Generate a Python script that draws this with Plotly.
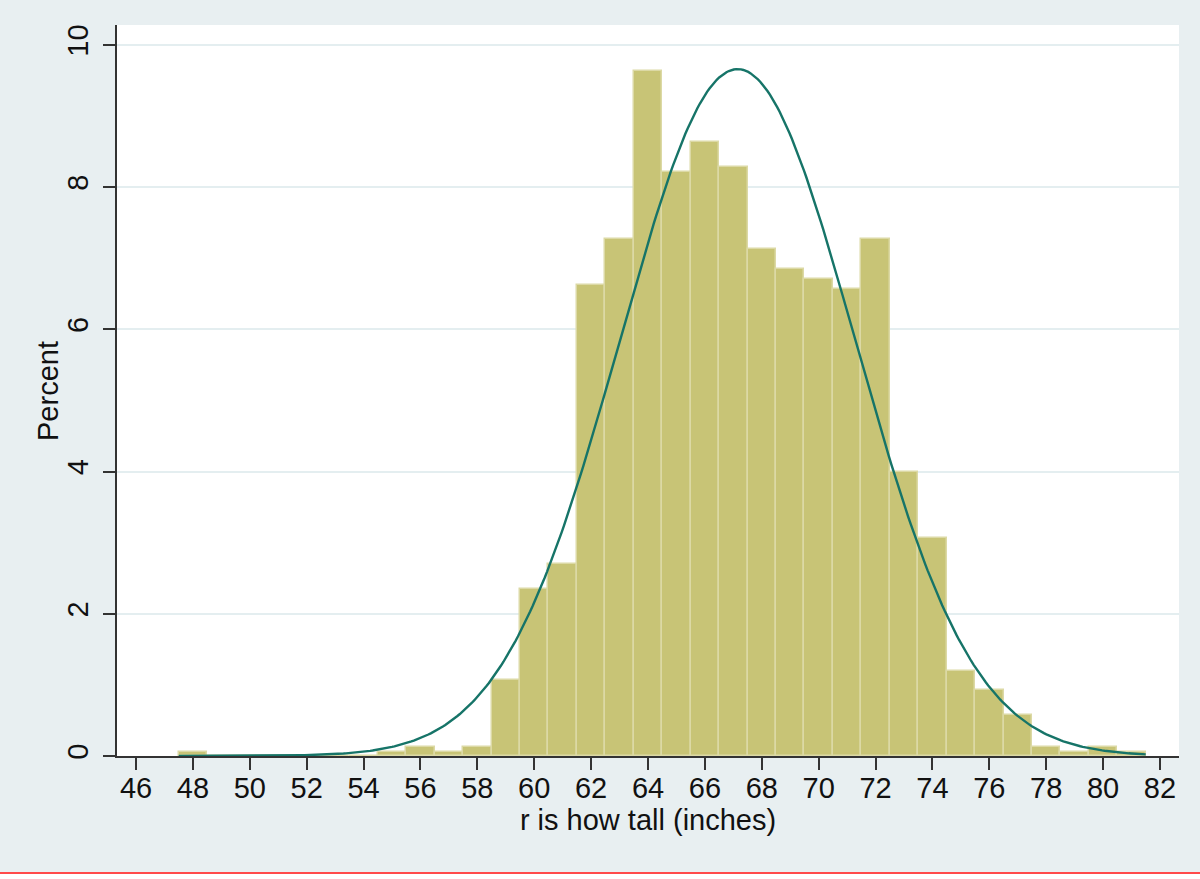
import numpy as np
import plotly.graph_objects as go

# Histogram bins (1-inch wide, centred on integers) and percent heights
bin_centers = [48, 49, 50, 51, 52, 53, 54, 55, 56, 57, 58, 59, 60, 61, 62, 63, 64,
               65, 66, 67, 68, 69, 70, 71, 72, 73, 74, 75, 76, 77, 78, 79, 80, 81]
percents = [0.06, 0, 0, 0, 0, 0, 0, 0.05, 0.13, 0.05, 0.13, 1.07, 2.35, 2.70, 6.62, 7.27, 9.63,
            8.21, 8.63, 8.28, 7.13, 6.85, 6.71, 6.57, 7.27, 3.99, 3.07, 1.20, 0.93, 0.57,
            0.13, 0.05, 0.13, 0.05]

# Normal overlay parameters (mean / sd of height) and data range
mean_height = 67.15
sd_height = 4.13
min_height = 47.5
max_height = 81.5
bin_width = 1.0

x_ticks = list(range(46, 83, 2))
y_ticks = [0, 2, 4, 6, 8, 10]

xs = np.linspace(min_height, max_height, 400)
dens = 100 * bin_width / (sd_height * np.sqrt(2 * np.pi)) * np.exp(-0.5 * ((xs - mean_height) / sd_height) ** 2)

BG = "#e8eff1"
FONT = "Liberation Sans, Arial, Helvetica, sans-serif"
FS = 29

fig = go.Figure()
fig.add_trace(go.Bar(
    x=bin_centers, y=percents, width=bin_width,
    marker=dict(color="rgb(200,196,118)", line=dict(color="rgb(220,217,165)", width=1.5)),
    showlegend=False, hoverinfo="x+y",
))
fig.add_trace(go.Scatter(
    x=xs, y=dens, mode="lines",
    line=dict(color="rgb(22,116,104)", width=2.4),
    showlegend=False,
))

fig.update_layout(
    width=1200, height=879,
    margin=dict(l=117, r=21, t=25, b=123),
    paper_bgcolor=BG, plot_bgcolor="white",
    font=dict(family=FONT, size=FS, color="#111111"),
    bargap=0,
    shapes=[
        dict(type="rect", xref="paper", yref="paper",
             x0=-0.2, x1=1.2, y0=(756 - 874) / 731, y1=(756 - 890) / 731,
             fillcolor="white", line=dict(width=0), layer="above"),
        dict(type="line", xref="paper", yref="paper",
             x0=-0.2, x1=1.2, y0=(756 - 873) / 731, y1=(756 - 873) / 731,
             line=dict(color="#ff4a4a", width=2), layer="above"),
    ],
    annotations=[
        dict(text="Percent", xref="paper", yref="paper",
             x=(48 - 117) / 1062, y=(756 - 391) / 731,
             xanchor="center", yanchor="middle", textangle=-90,
             showarrow=False, font=dict(size=FS)),
    ],
)
fig.update_xaxes(
    range=[45.33, 82.67], tickvals=x_ticks, ticktext=[str(t) for t in x_ticks],
    showgrid=False, zeroline=False,
    showline=True, linecolor="#333333", linewidth=2,
    ticks="outside", ticklen=12, tickwidth=2, tickcolor="#333333",
    ticklabelstandoff=-7,
    title=dict(text="r is how tall (inches)", font=dict(size=FS), standoff=6),
    tickfont=dict(size=FS),
)
fig.update_yaxes(
    range=[0, 10.28], tickvals=y_ticks, ticktext=[str(t) for t in y_ticks],
    showgrid=True, gridcolor="#e4eef0", gridwidth=2, zeroline=False,
    showline=True, linecolor="#333333", linewidth=2,
    ticks="outside", ticklen=12, tickwidth=2, tickcolor="#333333",
    tickangle=-90, ticklabelstandoff=3,
    tickfont=dict(size=FS),
)

fig.write_html("out.html")
